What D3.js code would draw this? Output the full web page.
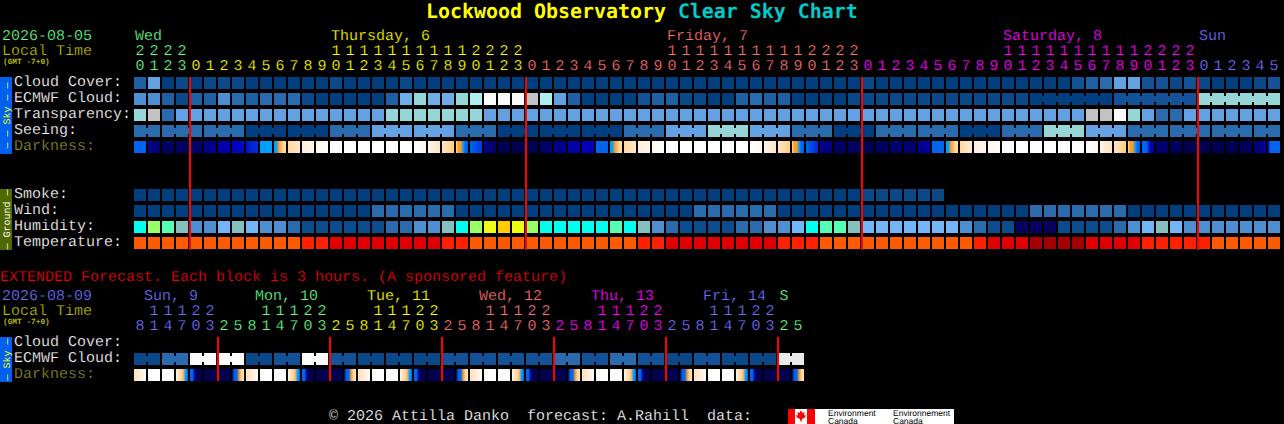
<!DOCTYPE html>
<html>
<head>
<meta charset="utf-8">
<title>Lockwood Observatory Clear Sky Chart</title>
<script src="https://cdn.jsdelivr.net/npm/d3@7"></script>
<style>
  html, body { margin: 0; padding: 0; background: #000; overflow: hidden; }
  svg { display: block; }
  text { font-family: "Liberation Mono", monospace; font-size: 15px; white-space: pre; text-rendering: geometricPrecision; stroke: #000; stroke-width: 0.22px; }
  text.plain { stroke: none; }
  rect { shape-rendering: crispEdges; }
</style>
</head>
<body>
<svg id="chart" width="1284" height="424"></svg>
<script>
// colour tables, the values below are indexes into these
var skyColors = ["#003f7f", "#0a4888", "#135297", "#1f5fa3", "#2a6bad", "#4f8ed0", "#63a1e3",
                 "#70aeea", "#96d6d6", "#aeeeee", "#c2c2c2", "#e9e9e9", "#fbfbfb"];
var humidityColors = ["#08005f", "#0d4c8c", "#2a6bad", "#4f8ed0", "#74b4f8", "#85bfbf",
                      "#55ffb5", "#00ffee", "#99ff66", "#eeff11", "#ffcc00"];
var tempColors = ["#ff5a00", "#ff2000", "#e10000", "#a40000"];
var darkDomain = [0, 1, 2, 3, 4, 5, 6, 7, 8];
var darkColors = ["#000050", "#00008c", "#0000c0", "#0064f0", "#00a0ff", "#ff9a20", "#ffd8a0", "#fff0e0", "#ffffff"];
var dayColors = {wed: "#66ff88", thu: "#ffff00", fri: "#ff7070", sat: "#ff00ff", sun: "#7070ff"};

// main chart, one block per hour
var hours = [20,21,22,23,
  0,1,2,3,4,5,6,7,8,9,10,11,12,13,14,15,16,17,18,19,20,21,22,23,
  0,1,2,3,4,5,6,7,8,9,10,11,12,13,14,15,16,17,18,19,20,21,22,23,
  0,1,2,3,4,5,6,7,8,9,10,11,12,13,14,15,16,17,18,19,20,21,22,23,
  0,1,2,3,4,5];
var hourDays = ["wed","wed","wed","wed"]
  .concat(d3.range(24).map(function() { return "thu"; }))
  .concat(d3.range(24).map(function() { return "fri"; }))
  .concat(d3.range(24).map(function() { return "sat"; }))
  .concat(d3.range(6).map(function() { return "sun"; }));
var dayLabels = [["Wed", 0, "wed"], ["Thursday, 6", 14, "thu"], ["Friday, 7", 38, "fri"], ["Saturday, 8", 62, "sat"], ["Sun", 76, "sun"]];
var midnights = [4, 28, 52, 76];

var cloud = [3,6,0,1,0,1,1,1,0,0,0,0,0,0,1,0,0,0,0,1,0,
  0,0,0,0,0,0,0,0,0,0,0,0,0,0,0,0,0,0,0,0,0,0,0,0,0,0,0,0,0,0,0,
  1,0,0,0,0,0,0,0,0,0,0,0,0,0,0,2,3,4,6,6,2,2,1,2,1,0,0,0,1,2];
var ecmwf = [5,5,3,1,3,3,5,4,3,4,4,4,1,0,0,0,0,0,3,7,8,7,7,8,9,12,12,12,10,9,6,3,
  0,0,0,0,2,3,3,1,1,0,0,3,4,3,3,0,0,0,0,1,
  1,1,1,1,1,1,1,1,1,1,1,1,
  0,0,0,0,0,0,2,2,2,2,2,2,8,8,8,8,8,8];
var ecmwfBlocks = [1,1,1,1,1,1,1,1,1,1,1,1,1,1,1,1,1,1,1,1,1,1,1,1,1,1,1,1,1,1,1,1,
  1,1,1,1,1,1,1,1,1,1,1,1,1,1,1,1,1,1,1,1,1,1,1,1,1,1,1,1,1,1,1,1,6,6,6];
var transparency = [8,10,4,6,6,6,6,6,6,6,6,6,6,6,6,6,6,6,8,8,8,8,8,8,8,
  6,6,6,6,6,6,6,6,6,6,6,6,6,6,6,6,6,6,6,6,6,6,6,6,6,6,6,6,6,6,6,6,6,6,6,6,6,6,6,6,6,6,6,
  10,10,12,8,6,4,4,6,6,6,6,6,6,6];
var seeingBlocks = [2,3,3,3,3,3,3,3,3,3,3,3,3,3,3,3,3,3,3,3,3,3,3,3,3,3,3,2];
var seeingValues = [4,4,4,0,0,4,6,6,4,0,0,0,4,6,8,6,4,0,4,4,0,4,8,6,4,4,4,4];
// samples across each block, left to right
var darkness = [
  [3,3],[1,0.5],[0.3,0.3],[0.3,0.3],[0.3,0.5],[1,1],[1.6,1.6],[2,2.1],[2.2,2.5],[4,4],
  [4,4,5,5.5,6,6],[6,6.6],[6.9,7.4],[7.4,8],[8,8],[8,8],[8,8],[8,8],[8,8],[8,8],[8,7.3],
  [7.3,6.5],[6.5,5.8],[6,5,5,4,3,3],[3,2.6],[1,0.3],[0,0],[0,0],[0,0],[0.3,0.5],[1,1],[1.5,1.5],[2,1.8],[3,3],
  [4,4,5,5.5,6,6],[6,6.6],[6.9,7.4],[7.4,8],[8,8],[8,8],[8,8],[8,8],[8,8],[8,8],[8,7.4],
  [7.3,6.6],[6.6,5.8],[6,5,5,4,3,3],[3,2.4],[1,0.8],[0.3,0.3],[0.3,0.3],
  [0,0],[0.3,0.3],[0.5,0.5],[0.5,0.5],[1,1.5],[3,3],[4,4,5,5.5,6,6],[6,6.8],[7,7.3],[7.3,8],
  [8,8],[8,8],[8,8],[8,8],[8,8],[8,8],[8,7.4],[7.2,6.5],[6.5,5.8],[6,5,5,4,3,3],[3,3,3,2.2,1.5,1.5],
  [0.5,0.5],[0.2,0.2],[0,0],[0,0],[0,0],[0,0],[0.2,0.2],[0.5,1.3],[1.5,3,3,3,3,3]];

var smoke = [0,0,0,0,0,0,0,0,0,0,0,0,0,0,0,0,0,0,0,0,0,0,0,0,0,0,0,0,0,0,0,0,
  0,0,0,0,0,0,0,0,0,0,0,0,0,0,0,0,0,0,0,0,1,1,1,1,1,1];
var wind = [0,0,0,0,0,0,0,0,0,0,0,0,0,0,0,0,0,4,4,4,4,4,4,
  0,0,0,0,0,0,0,0,0,0,0,0,0,0,0,0,0,4,4,4,4,4,4,
  0,0,0,0,0,0,0,0,0,0,0,0,0,0,0,0,0,0,4,4,4,4,4,4,4,
  0,0,0,0,0,0,0,0,0,0,0];
var humidity = [7,8,6,5,3,3,4,5,4,3,3,2,1,1,1,1,1,1,2,2,3,3,5,
  7,8,9,10,9,8,7,7,7,7,7,6,7,5,3,2,1,1,1,1,2,2,3,3,4,7,6,6,5,
  4,4,4,4,4,4,4,3,2,1,1,0,0,0,1,1,1,1,2,3,4,5,4,3,3,3,3,3,3,3];
var temperature = [0,0,0,0,0,0,0,0,0,0,0,0,1,1,2,2,2,2,2,2,2,2,1,1,
  0,0,0,0,0,0,0,0,0,0,0,0,1,1,2,2,2,2,2,2,2,2,1,1,1,
  0,0,0,0,0,0,0,0,0,0,0,1,2,2,2,3,3,3,3,2,2,2,2,1,1,1,1,1,0,0,0,0,0];

// extended forecast, one block per 3 hours
var extHours = [8,11,14,17,20,23,
  2,5,8,11,14,17,20,23, 2,5,8,11,14,17,20,23, 2,5,8,11,14,17,20,23,
  2,5,8,11,14,17,20,23, 2,5,8,11,14,17,20,23, 2,5];
var extDays = ["sun","sun","sun","sun","sun","sun",
  "wed","wed","wed","wed","wed","wed","wed","wed",
  "thu","thu","thu","thu","thu","thu","thu","thu",
  "fri","fri","fri","fri","fri","fri","fri","fri",
  "sat","sat","sat","sat","sat","sat","sat","sat",
  "sun","sun","sun","sun","sun","sun","sun","sun","wed","wed"];
var extDayLabels = [["Sun, 9", 0.72, "sun"], ["Mon, 10", 8.65, "wed"], ["Tue, 11", 16.65, "thu"],
  ["Wed, 12", 24.65, "fri"], ["Thu, 13", 32.65, "sat"], ["Fri, 14", 40.65, "sun"], ["S", 46.1, "wed"]];
var extMidnights = [6, 14, 22, 30, 38, 46];
var extBlocks = [2,2,2,2,2,2,2,2,2,2,2,2,2,2,2,2,2,2,2,2,2,2,2,2];
var extEcmwf = [1,4,12,12,1,2,12,2,1,1,1,2,2,2,2,4,2,4,2,1,2,1,1,11];
var extDark = [
  [6.4,7.6],[8,8],[8,7.6],[7,6.5,6,5.5,4,3],[3,3,1,0,0,0],[0,0],[0,0],[0,3,3,5,6,6.5],
  [6.4,7.6],[8,8],[8,7.6],[7,6.5,6,5.5,4,3],[3,3,1,0,0,0],[0,0],[0,0],[0,3,3,5,6,6.5],
  [6.4,7.6],[8,8],[8,7.6],[7,6.5,6,5.5,4,3],[3,3,1,0,0,0],[0,0],[0,0],[0,3,3,5,6,6.5],
  [6.4,7.6],[8,8],[8,7.6],[7,6.5,6,5.5,4,3],[3,3,1,0,0,0],[0,0],[0,0],[0,3,3,5,6,6.5],
  [6.4,7.6],[8,8],[8,7.6],[7,6.5,6,5.5,4,3],[3,3,1,0,0,0],[0,0],[0,0],[0,3,3,5,6,6.5],
  [6.4,7.6],[8,8],[8,7.6],[7,6.5,6,5.5,4,3],[3,3,1,0,0,0],[0,0],[0,0],[0,3,3,5,6,6.5]];

var svg = d3.select("#chart");
svg.append("rect").attr("width", 1284).attr("height", 424).attr("fill", "#000");
var defs = svg.append("defs");

var x = d3.scaleLinear().domain([0, 1]).range([134, 148]);
var cell = 12;
var skyColor = d3.scaleOrdinal().domain(d3.range(skyColors.length)).range(skyColors);
var humColor = d3.scaleOrdinal().domain(d3.range(humidityColors.length)).range(humidityColors);
var tempColor = d3.scaleOrdinal().domain(d3.range(tempColors.length)).range(tempColors);
var darkColor = d3.scaleLinear().domain(darkDomain).range(darkColors);

function expand(sizes, values) {
  var out = [];
  sizes.forEach(function(n, k) {
    for (var i = 0; i < n; i++) out.push(values[k]);
  });
  return out;
}

function drawRow(values, color, top) {
  svg.append("g").selectAll("rect").data(values).enter().append("rect")
    .attr("x", function(d, i) { return x(i); })
    .attr("y", top)
    .attr("width", cell)
    .attr("height", cell)
    .attr("fill", function(d) { return color(d); });
}

// blocks of one forecast step are tied together by a thin bridge across the gap
function drawBridges(sizes, values, color, top) {
  var col = 0;
  sizes.forEach(function(n, k) {
    for (var i = 0; i < n - 1; i++) {
      svg.append("rect")
        .attr("x", x(col + i) + cell)
        .attr("y", top + 3)
        .attr("width", x(1) - x(0) - cell)
        .attr("height", 6)
        .attr("fill", color(values[k]));
    }
    col += n;
  });
}

function drawDark(values, top, key) {
  var grads = defs.selectAll("linearGradient." + key).data(values).enter().append("linearGradient")
    .attr("class", key)
    .attr("id", function(d, i) { return key + i; });
  grads.selectAll("stop").data(function(d) { return d; }).enter().append("stop")
    .attr("offset", function(d, i, n) { return i / (n.length - 1); })
    .attr("stop-color", function(d) { return darkColor(d); });
  svg.append("g").selectAll("rect").data(values).enter().append("rect")
    .attr("x", function(d, i) { return x(i); })
    .attr("y", top)
    .attr("width", cell)
    .attr("height", cell)
    .attr("fill", function(d, i) { return "url(#" + key + i + ")"; });
}

function label(txt, px, py, color, attrs) {
  var t = svg.append("text").attr("x", px).attr("y", py).attr("fill", color).text(txt);
  if (attrs) Object.keys(attrs).forEach(function(k) { t.style(k, attrs[k]); });
  return t;
}

function drawHours(list, days, tensY, unitsY) {
  svg.append("g").selectAll("text").data(list).enter().append("text")
    .attr("x", function(d, i) { return x(i) + cell / 2; })
    .attr("y", unitsY)
    .attr("text-anchor", "middle")
    .attr("fill", function(d, i) { return dayColors[days[i]]; })
    .text(function(d) { return d % 10; });
  list.forEach(function(d, i) {
    if (d < 10) return;
    svg.append("text")
      .attr("x", x(i) + cell / 2)
      .attr("y", tensY)
      .attr("text-anchor", "middle")
      .attr("fill", dayColors[days[i]])
      .text(Math.floor(d / 10));
  });
}

function sideBar(txt, top, h, fill, color) {
  svg.append("rect").attr("x", 0).attr("y", top).attr("width", 12).attr("height", h).attr("fill", fill);
  svg.append("text")
    .attr("class", "plain")
    .attr("transform", "translate(9.5," + (top + h / 2) + ") rotate(-90)")
    .attr("text-anchor", "middle")
    .attr("fill", color)
    .style("font-size", "10px")
    .text(txt);
}

// title
svg.append("text").attr("class", "plain").attr("x", 426).attr("y", 18)
  .style("font-family", "'DejaVu Sans Mono', monospace")
  .style("font-weight", "bold").style("font-size", "19.93px")
  .call(function(t) {
    t.append("tspan").attr("fill", "#ffff00").text("Lockwood Observatory ");
    t.append("tspan").attr("fill", "#00cccc").text("Clear Sky Chart");
  });

var olive = "#b8b800";
var gmtStyle = {"font-size": "7.8px", "font-weight": "bold", "stroke": "none"};
// header
label("2026-08-05", 2, 40, "#66ff88");
label("Local Time", 2, 55, olive);
label("(GMT -7+0)", 3, 64, olive, gmtStyle);
dayLabels.forEach(function(d) {
  label(d[0], x(d[1]) + 1, 40, dayColors[d[2]]);
});
drawHours(hours, hourDays, 55, 70);

// sky rows
var rowY = d3.scaleLinear().domain([0, 1]).range([77, 93]);
var names = ["Cloud Cover:", "ECMWF Cloud:", "Transparency:", "Seeing:", "Darkness:"];
names.forEach(function(n, i) {
  label(n, 14, rowY(i) + 9, n == "Darkness:" ? "#8a8a2a" : "#ffffff");
});
drawRow(cloud, skyColor, rowY(0));
drawRow(ecmwf, skyColor, rowY(1));
drawBridges(ecmwfBlocks, ecmwfBlocks.map(function(n, k) {
  return ecmwf[d3.sum(ecmwfBlocks.slice(0, k))];
}), skyColor, rowY(1));
drawRow(transparency, skyColor, rowY(2));
drawRow(expand(seeingBlocks, seeingValues), skyColor, rowY(3));
drawBridges(seeingBlocks, seeingValues, skyColor, rowY(3));
drawDark(darkness, rowY(4), "dark");

// ground rows
var groundY = d3.scaleLinear().domain([0, 1]).range([189, 205]);
["Smoke:", "Wind:", "Humidity:", "Temperature:"].forEach(function(n, i) {
  label(n, 14, groundY(i) + 9, "#ffffff");
});
drawRow(smoke, skyColor, groundY(0));
drawRow(wind, skyColor, groundY(1));
drawRow(humidity, humColor, groundY(2));
drawRow(temperature, tempColor, groundY(3));

sideBar("\u2014 \u2014 Sky \u2014 \u2014", 77, 77, "#0060f0", "#ffff00");
sideBar("\u2014 Ground \u2014", 189, 61, "#506800", "#ffffff");

midnights.forEach(function(m) {
  svg.append("rect").attr("x", x(m) - 1).attr("y", 77).attr("width", 2).attr("height", 173).attr("fill", "#ff0000");
});

// extended forecast
label("EXTENDED Forecast. Each block is 3 hours. (A sponsored feature)", 0, 281, "#f00000");
label("2026-08-09", 2, 300, dayColors.sun);
label("Local Time", 2, 315, olive);
label("(GMT -7+0)", 3, 324, olive, gmtStyle);
extDayLabels.forEach(function(d) {
  label(d[0], x(d[1]), 300, dayColors[d[2]]);
});
drawHours(extHours, extDays, 315, 330);

var extY = d3.scaleLinear().domain([0, 1]).range([337, 353]);
["Cloud Cover:", "ECMWF Cloud:", "Darkness:"].forEach(function(n, i) {
  label(n, 14, extY(i) + 9, n == "Darkness:" ? "#8a8a2a" : "#ffffff");
});
drawRow(expand(extBlocks, extEcmwf), skyColor, extY(1));
drawBridges(extBlocks, extEcmwf, skyColor, extY(1));
drawDark(extDark, extY(2), "xdark");
sideBar("\u2014 Sky \u2014", 337, 45, "#0060f0", "#ffff00");
extMidnights.forEach(function(m) {
  svg.append("rect").attr("x", x(m) - 1).attr("y", 337).attr("width", 2).attr("height", 44).attr("fill", "#ff0000");
});

// footer
label("\u00a9 2026 Attilla Danko  forecast: A.Rahill  data:", 329, 420, "#ffffff");
var logo = svg.append("g");
logo.append("rect").attr("x", 788).attr("y", 409).attr("width", 166).attr("height", 15).attr("fill", "#fff");
logo.append("rect").attr("x", 788).attr("y", 409).attr("width", 7).attr("height", 15).attr("fill", "#f00");
logo.append("rect").attr("x", 807).attr("y", 409).attr("width", 8).attr("height", 15).attr("fill", "#f00");
logo.append("path")
  .attr("d", "M801 410 L802.5 413 L804.5 412 L804 415.5 L806 415 L805 417.5 L802 419 L801.5 421.5 L800.5 421.5 L800 419 L797 417.5 L796 415 L798 415.5 L797.5 412 L799.5 413 Z")
  .attr("fill", "#f00");
[["Environment", 828], ["Environnement", 893]].forEach(function(d) {
  svg.append("text").attr("class", "plain").attr("x", d[1]).attr("y", 416).attr("fill", "#000")
    .style("font-family", "'Liberation Sans', sans-serif").style("font-size", "8.5px").text(d[0]);
  svg.append("text").attr("class", "plain").attr("x", d[1]).attr("y", 423.5).attr("fill", "#000")
    .style("font-family", "'Liberation Sans', sans-serif").style("font-size", "8.5px").text("Canada");
});
</script>
</body>
</html>
